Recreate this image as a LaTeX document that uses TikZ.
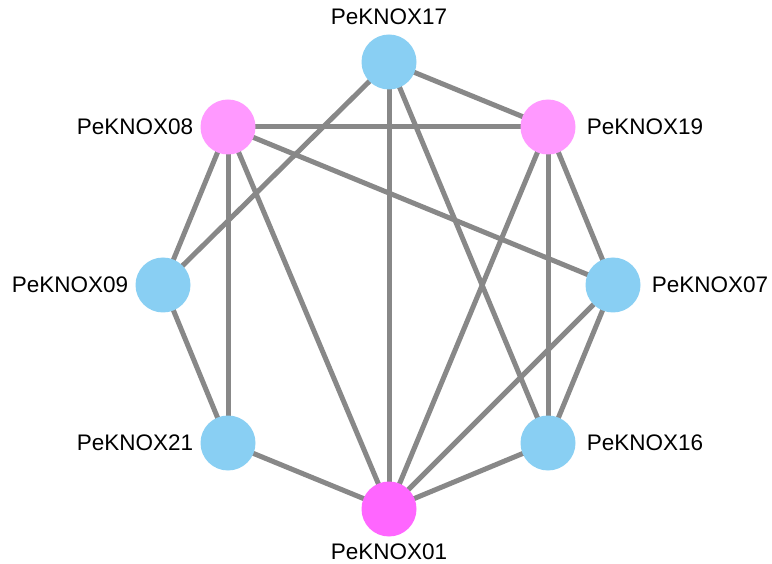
\documentclass[tikz,border=0pt]{standalone}
\usepackage{fontspec}
\setmainfont{Liberation Sans}
\usetikzlibrary{backgrounds}
\definecolor{nblue}{HTML}{89CFF3}
\definecolor{npink}{HTML}{FF99FF}
\definecolor{nmag}{HTML}{FF66FF}
\definecolor{egray}{HTML}{888888}
\begin{document}
\begin{tikzpicture}[x=1pt,y=-1pt,
  gnode/.style={circle,minimum size=55pt,inner sep=0pt,draw=none},
  lbl/.style={font=\fontsize{22.5}{25}\selectfont,inner sep=0pt},
  edge/.style={draw=egray,line width=5pt}]
\useasboundingbox (0,0) rectangle (772,564);
\node[gnode,fill=nblue] (n17) at (389,62) {};
\node[gnode,fill=npink] (n08) at (228,127) {};
\node[gnode,fill=npink] (n19) at (548,127) {};
\node[gnode,fill=nblue] (n09) at (163,285) {};
\node[gnode,fill=nblue] (n07) at (613,285) {};
\node[gnode,fill=nblue] (n21) at (228,443) {};
\node[gnode,fill=nblue] (n16) at (548,443) {};
\node[gnode,fill=nmag] (n01) at (389,509) {};
\node[lbl,anchor=south] (l17) at ([yshift=9pt]n17.north) {PeKNOX17};
\node[lbl,anchor=east] (l08) at ([xshift=-7pt]n08.west) {PeKNOX08};
\node[lbl,anchor=west] (l19) at ([xshift=11pt]n19.east) {PeKNOX19};
\node[lbl,anchor=east] (l09) at ([xshift=-7pt]n09.west) {PeKNOX09};
\node[lbl,anchor=west] (l07) at ([xshift=11pt]n07.east) {PeKNOX07};
\node[lbl,anchor=east] (l21) at ([xshift=-7pt]n21.west) {PeKNOX21};
\node[lbl,anchor=west] (l16) at ([xshift=11pt]n16.east) {PeKNOX16};
\node[lbl,anchor=north] (l01) at ([yshift=-7pt]n01.south) {PeKNOX01};
\begin{scope}[on background layer]
\draw[edge] (n17.center) -- (n19.center);
\draw[edge] (n17.center) -- (n01.center);
\draw[edge] (n17.center) -- (n16.center);
\draw[edge] (n17.center) -- (n09.center);
\draw[edge] (n08.center) -- (n19.center);
\draw[edge] (n08.center) -- (n07.center);
\draw[edge] (n08.center) -- (n09.center);
\draw[edge] (n08.center) -- (n21.center);
\draw[edge] (n08.center) -- (n01.center);
\draw[edge] (n19.center) -- (n07.center);
\draw[edge] (n19.center) -- (n16.center);
\draw[edge] (n19.center) -- (n01.center);
\draw[edge] (n07.center) -- (n16.center);
\draw[edge] (n07.center) -- (n01.center);
\draw[edge] (n09.center) -- (n21.center);
\draw[edge] (n21.center) -- (n01.center);
\draw[edge] (n16.center) -- (n01.center);
\end{scope}
\end{tikzpicture}
\end{document}
